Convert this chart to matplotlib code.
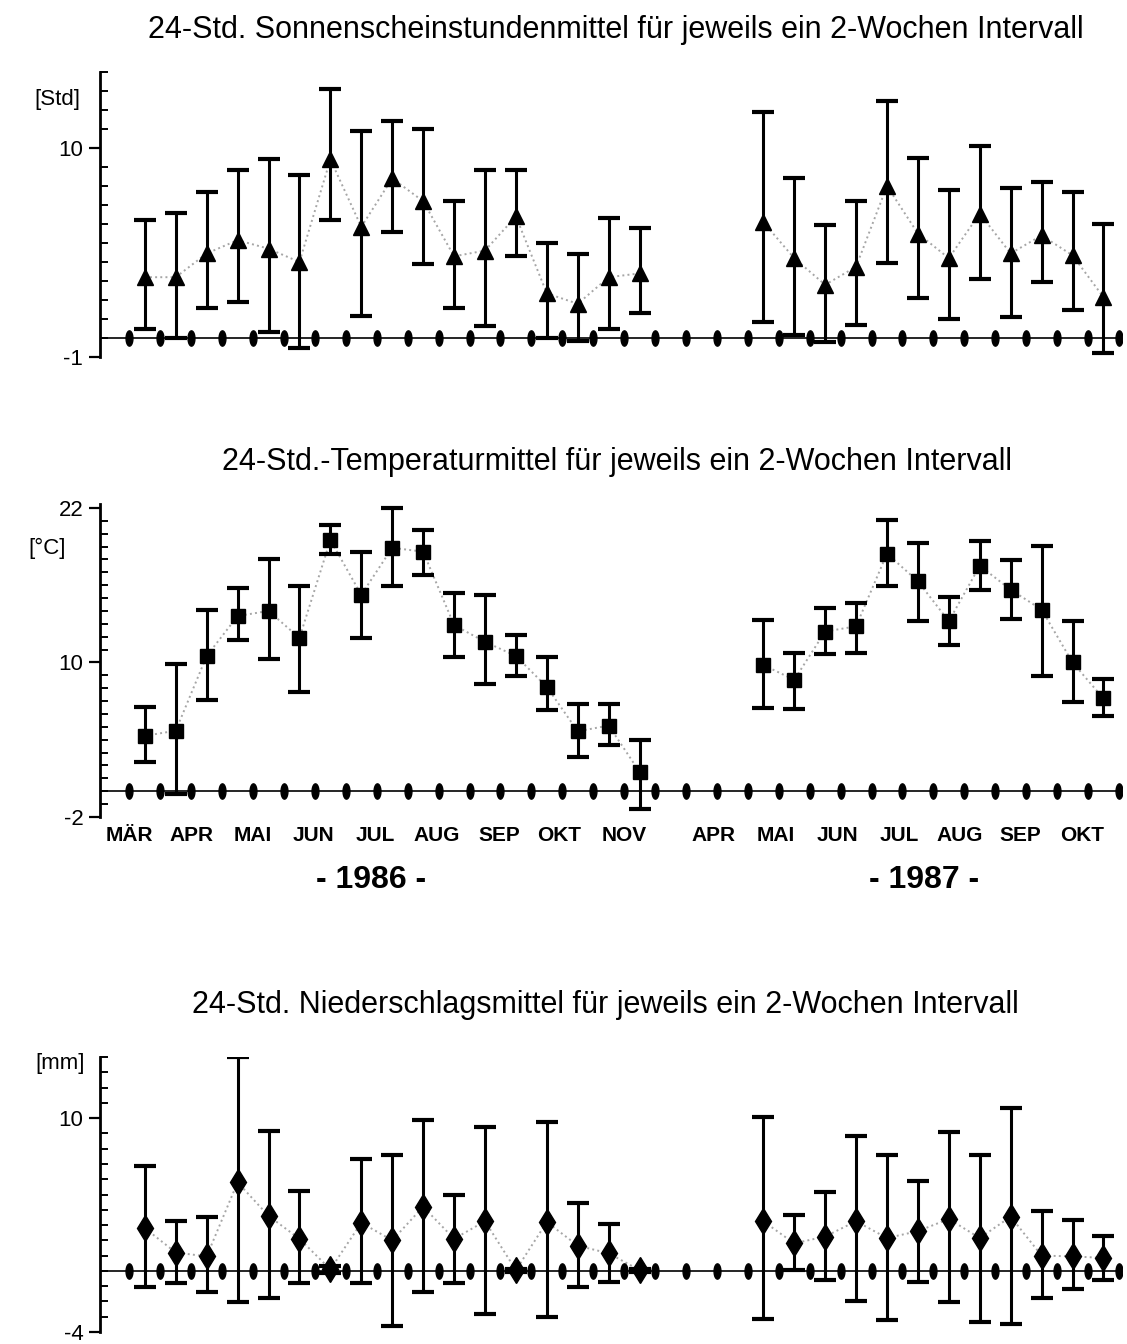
import matplotlib
matplotlib.use("Agg")
import matplotlib.pyplot as plt
import numpy as np
from matplotlib.ticker import MultipleLocator

plt.rcParams['font.family'] = ['Liberation Sans', 'DejaVu Sans']

# interval index of every 2-week period (1986: Mar-Nov, 1987: May-Oct)
x_1986 = np.arange(0, 17)
x_1987 = np.arange(20, 32)

# sunshine hours [Std]: mean, lower and upper end of the bar
sun_1986_mean = [3.2, 3.2, 4.45, 5.15, 4.7, 4.0, 9.4, 5.85, 8.4, 7.2, 4.3, 4.6, 6.4, 2.35, 1.8, 3.2, 3.4]
sun_1986_lo = [0.45, 0.0, 1.6, 1.9, 0.3, -0.5, 6.2, 1.15, 5.6, 3.9, 1.6, 0.65, 4.3, 0.0, -0.15, 0.45, 1.3]
sun_1986_hi = [6.2, 6.6, 7.7, 8.85, 9.4, 8.6, 13.1, 10.9, 11.4, 11.0, 7.2, 8.85, 8.85, 5.0, 4.4, 6.3, 5.8]
sun_1987_mean = [6.1, 4.2, 2.8, 3.75, 8.0, 5.5, 4.2, 6.55, 4.45, 5.4, 4.35, 2.15]
sun_1987_lo = [0.85, 0.15, -0.2, 0.7, 3.95, 2.1, 1.0, 3.1, 1.1, 2.95, 1.45, -0.8]
sun_1987_hi = [11.9, 8.4, 5.95, 7.2, 12.5, 9.5, 7.8, 10.1, 7.9, 8.2, 7.7, 6.0]

# temperature [°C]
temp_1986_mean = [4.3, 4.7, 10.5, 13.6, 14.0, 11.9, 19.5, 15.25, 18.9, 18.6, 12.9, 11.6, 10.5, 8.1, 4.65, 5.1, 1.5]
temp_1986_lo = [2.3, -0.2, 7.1, 11.75, 10.25, 7.7, 18.4, 11.9, 15.95, 16.8, 10.45, 8.3, 8.95, 6.3, 2.67, 3.6, -1.35]
temp_1986_hi = [6.55, 9.9, 14.1, 15.8, 18.0, 15.9, 20.7, 18.55, 22.0, 20.3, 15.4, 15.25, 12.1, 10.45, 6.75, 6.8, 3.95]
temp_1987_mean = [9.8, 8.65, 12.4, 12.8, 18.45, 16.3, 13.2, 17.5, 15.65, 14.1, 10.0, 7.2]
temp_1987_lo = [6.5, 6.35, 10.65, 10.75, 15.95, 13.2, 11.35, 15.65, 13.35, 8.95, 6.95, 5.85]
temp_1987_hi = [13.3, 10.75, 14.25, 14.6, 21.05, 19.3, 15.1, 19.4, 17.95, 19.05, 13.2, 8.75]

# precipitation [mm]
rain_1986_mean = [2.8, 1.2, 0.95, 5.8, 3.6, 2.1, 0.1, 3.15, 2.0, 4.2, 2.1, 3.25, 0.05, 3.2, 1.65, 1.15, 0.05]
rain_1986_lo = [-1.05, -0.8, -1.4, -2.05, -1.75, -0.8, -0.15, -0.8, -3.6, -1.4, -0.8, -2.85, -0.1, -3.0, -1.05, -0.75, -0.1]
rain_1986_hi = [6.85, 3.25, 3.55, 14.0, 9.15, 5.2, 0.3, 7.3, 7.6, 9.9, 5.0, 9.45, 0.15, 9.75, 4.45, 3.1, 0.15]
rain_1987_mean = [3.25, 1.8, 2.25, 3.25, 2.15, 2.6, 3.4, 2.15, 3.55, 1.0, 0.95, 0.85]
rain_1987_lo = [-3.15, 0.05, -0.6, -1.95, -3.2, -0.75, -2.05, -3.35, -3.45, -1.8, -1.2, -0.6]
rain_1987_hi = [10.05, 3.65, 5.15, 8.8, 7.6, 5.9, 9.1, 7.6, 10.65, 3.95, 3.35, 2.3]

months_1986 = ['MÄR', 'APR', 'MAI', 'JUN', 'JUL', 'AUG', 'SEP', 'OKT', 'NOV']
months_1987 = ['APR', 'MAI', 'JUN', 'JUL', 'AUG', 'SEP', 'OKT']
month_pos_1986 = [-0.5, 1.5, 3.5, 5.45, 7.45, 9.45, 11.45, 13.4, 15.5]
month_pos_1987 = [18.4, 20.4, 22.4, 24.4, 26.35, 28.3, 30.3]

titles = ['24-Std. Sonnenscheinstundenmittel für jeweils ein 2-Wochen Intervall',
          '24-Std.-Temperaturmittel für jeweils ein 2-Wochen Intervall',
          '24-Std. Niederschlagsmittel für jeweils ein 2-Wochen Intervall']

W, H = 1127, 1344
fig = plt.figure(figsize=(W / 100, H / 100), dpi=100)

# vertical ellipse used for the little ticks on the zero line
t = np.linspace(0, 2 * np.pi, 40)
ellipse = np.column_stack([0.45 * np.cos(t), np.sin(t)])
tick_pos = np.arange(-0.5, 32, 1)


def panel(rect, ylim, majors, series, marker, ms):
    ax = fig.add_axes(rect)
    ax.set_xlim(-1.45, 31.6)
    ax.set_ylim(*ylim)
    for s in ['top', 'right', 'bottom']:
        ax.spines[s].set_visible(False)
    ax.spines['left'].set_linewidth(2)
    ax.set_xticks([])
    ax.set_yticks(majors)
    ax.set_yticklabels([str(m) for m in majors])
    ax.yaxis.set_minor_locator(MultipleLocator(1))
    ax.tick_params(axis='y', which='major', direction='out', length=8, width=1.6, labelsize=16, pad=4)
    ax.tick_params(axis='y', which='minor', direction='in', length=6, width=1.4)
    ax.patch.set_alpha(0)

    ax.axhline(0, color='k', lw=1.2, zorder=2)
    ax.plot(tick_pos, np.zeros(len(tick_pos)), ls='none', marker=ellipse, ms=11,
            color='k', zorder=3)
    for x, m, lo, hi in series:
        m = np.array(m)
        err = [m - np.array(lo), np.array(hi) - m]
        ax.plot(x, m, ls=':', color='0.65', lw=1.4, zorder=1)
        ax.errorbar(x, m, yerr=err, fmt='none', ecolor='k', elinewidth=2.2,
                    capsize=8, capthick=3, zorder=4)
        ax.plot(x, m, ls='none', marker=marker, ms=ms, color='k', zorder=5)
    return ax


def fy(py):
    return 1 - py / H


left = 100 / W
width = 1122 / W - left

ax1 = panel([left, fy(357), width, fy(72) - fy(357)], (-1, 14), [-1, 10],
            [(x_1986, sun_1986_mean, sun_1986_lo, sun_1986_hi),
             (x_1987, sun_1987_mean, sun_1987_lo, sun_1987_hi)], '^', 12)
ax2 = panel([left, fy(817), width, fy(504) - fy(817)], (-2, 22.3), [-2, 10, 22],
            [(x_1986, temp_1986_mean, temp_1986_lo, temp_1986_hi),
             (x_1987, temp_1987_mean, temp_1987_lo, temp_1987_hi)], 's', 10)
ax3 = panel([left, fy(1332), width, fy(1057) - fy(1332)], (-4, 14), [-4, 10],
            [(x_1986, rain_1986_mean, rain_1986_lo, rain_1986_hi),
             (x_1987, rain_1987_mean, rain_1987_lo, rain_1987_hi)], 'd', 13)

# titles and unit labels
fig.text(616 / W, fy(30), titles[0], ha='center', va='center', fontsize=22)
fig.text(617 / W, fy(462), titles[1], ha='center', va='center', fontsize=22)
fig.text(605 / W, fy(1005), titles[2], ha='center', va='center', fontsize=22)
fig.text(57 / W, fy(100), '[Std]', ha='center', va='center', fontsize=16)
fig.text(47 / W, fy(548), '[°C]', ha='center', va='center', fontsize=16)
fig.text(60 / W, fy(1063), '[mm]', ha='center', va='center', fontsize=16)

# month and year labels under the temperature panel
for p, lab in zip(month_pos_1986 + month_pos_1987, months_1986 + months_1987):
    ax2.text(p, -3.4, lab, ha='center', va='center', fontsize=15, fontweight='bold',
             clip_on=False)
ax2.text(7.3, -6.9, '- 1986 -', ha='center', va='center', fontsize=23, fontweight='bold', clip_on=False)
ax2.text(25.2, -6.9, '- 1987 -', ha='center', va='center', fontsize=23, fontweight='bold', clip_on=False)

fig.savefig('out.png', dpi=100, facecolor='white')
